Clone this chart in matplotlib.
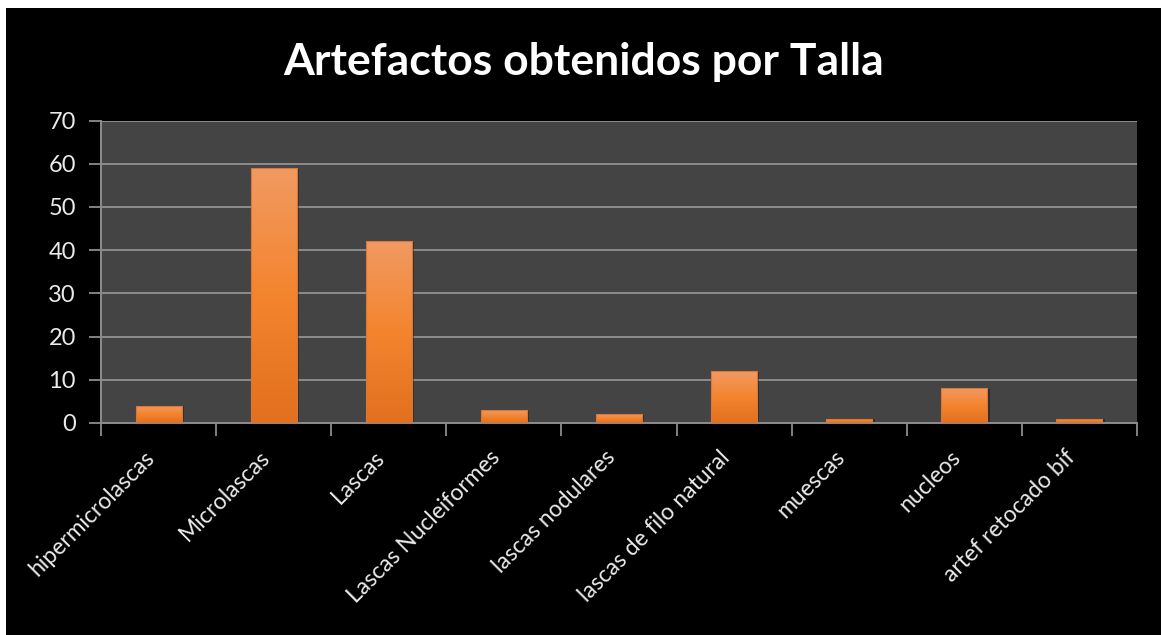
import numpy as np
import matplotlib
matplotlib.use("Agg")
import matplotlib.pyplot as plt
from matplotlib.colors import LinearSegmentedColormap
from matplotlib.patches import Rectangle

categorias = ["hipermicrolascas", "Microlascas", "Lascas", "Lascas Nucleiformes",
              "lascas nodulares", "lascas de filo natural", "muescas", "nucleos",
              "artef retocado bif"]
cantidades = [4, 59, 42, 3, 2, 12, 1, 8, 1]
y_ticks = [0, 10, 20, 30, 40, 50, 60, 70]

titulo = "Artefactos obtenidos por Talla"

plt.rcParams['font.family'] = ['Lato', 'DejaVu Sans']

fig = plt.figure(figsize=(11.61, 6.35), dpi=100, facecolor='white')
# fondo negro del grafico (deja un borde blanco arriba y a la izquierda)
fig.patches.append(Rectangle((6 / 1161, 0), 1 - 6 / 1161, 627 / 635,
                             transform=fig.transFigure, facecolor='black',
                             edgecolor='none', zorder=-10))

ax = fig.add_axes([0.087, 0.334, 0.8923, 0.4762])
ax.set_facecolor('#444444')

x = np.arange(len(categorias))
ancho = 0.4

naranja = LinearSegmentedColormap.from_list(
    'naranja', ['#E2701E', '#F4842E', '#F19A62'])
grad = np.linspace(0, 1, 256).reshape(-1, 1)

barras = ax.bar(x, cantidades, width=ancho, color='none',
                edgecolor='#D9773A', linewidth=0.8, zorder=4)
for b, v in zip(barras, cantidades):
    x0 = b.get_x()
    # sombra suave
    ax.add_patch(Rectangle((x0 + 0.02, 0), ancho, v - 0.15, facecolor='black',
                           alpha=0.35, edgecolor='none', zorder=2))
    im = ax.imshow(grad, cmap=naranja, origin='lower', aspect='auto',
                   extent=(x0, x0 + ancho, 0, v), zorder=3)
    im.set_clip_path(b)

ax.set_xlim(-0.5, len(categorias) - 0.5)
ax.set_ylim(0, 70)

ax.set_yticks(y_ticks)
ax.yaxis.grid(True, color='#8C8C8C', linewidth=1.4)
ax.set_axisbelow(True)

# marcas del eje x entre categorias
ax.set_xticks(np.arange(-0.5, len(categorias), 1.0))
ax.set_xticklabels([])
ax.set_xticks(x, minor=True)
ax.set_xticklabels(categorias, minor=True, rotation=45, ha='right', va='top',
                   fontsize=16.5, color='#EAEAEA')
ax.tick_params(axis='x', which='minor', length=0, pad=17)
ax.tick_params(axis='x', which='major', length=9, width=1.3, color='#8C8C8C')
ax.tick_params(axis='y', length=9, width=1.3, color='#8C8C8C',
               labelsize=17, labelcolor='#EAEAEA', pad=9)

for lado in ['top', 'right']:
    ax.spines[lado].set_visible(False)
for lado in ['left', 'bottom']:
    ax.spines[lado].set_color('#8C8C8C')
    ax.spines[lado].set_linewidth(1.4)

fig.text(0.5026, 0.903, titulo, ha='center', va='center', fontsize=32,
         fontweight='bold', color='white')

fig.savefig('out.png', dpi=100, facecolor=fig.get_facecolor())
